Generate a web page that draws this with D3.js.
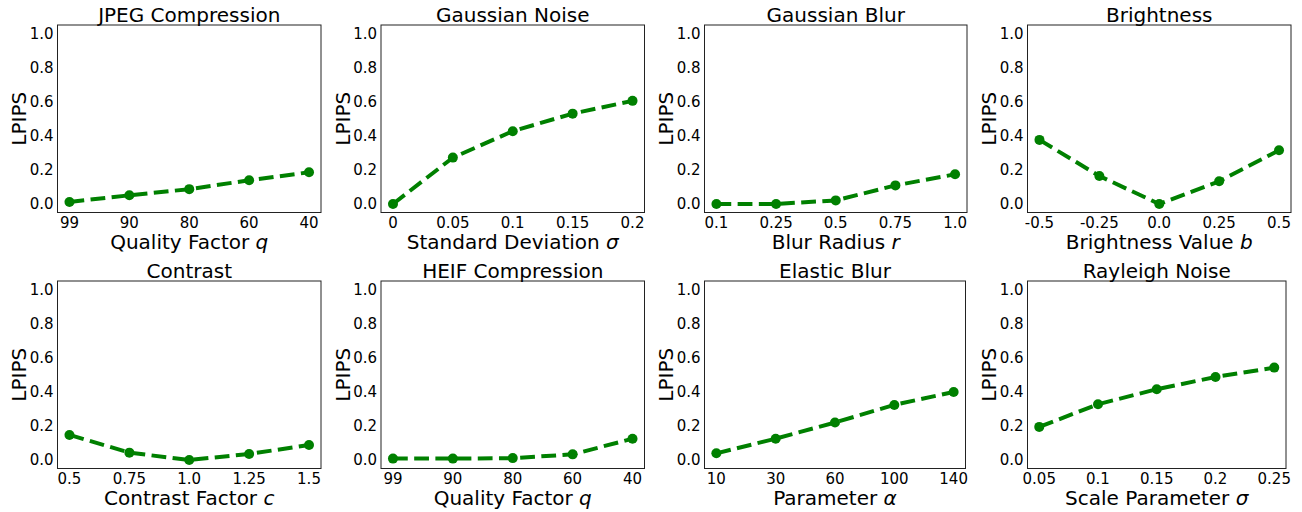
<!DOCTYPE html>
<html>
<head>
<meta charset="utf-8">
<script src="https://cdn.jsdelivr.net/npm/d3@7"></script>
<style>
  body { margin: 0; background: #fff; }
  svg { display: block; font-family: "DejaVu Sans", sans-serif; }
</style>
</head>
<body>
<div id="chart"></div>
<script>

// chart data
var titles = ["JPEG Compression", "Gaussian Noise", "Gaussian Blur", "Brightness",
              "Contrast", "HEIF Compression", "Elastic Blur", "Rayleigh Noise"];

var xLabelNames   = ["Quality Factor ", "Standard Deviation ", "Blur Radius ", "Brightness Value ",
                     "Contrast Factor ", "Quality Factor ", "Parameter ", "Scale Parameter "];
var xLabelSymbols = ["q", "σ", "r", "b", "c", "q", "α", "σ"];

var ticksJpeg       = ["99", "90", "80", "60", "40"];
var ticksNoise      = ["0", "0.05", "0.1", "0.15", "0.2"];
var ticksBlur       = ["0.1", "0.25", "0.5", "0.75", "1.0"];
var ticksBrightness = ["-0.5", "-0.25", "0.0", "0.25", "0.5"];
var ticksContrast   = ["0.5", "0.75", "1.0", "1.25", "1.5"];
var ticksHeif       = ["99", "90", "80", "60", "40"];
var ticksElastic    = ["10", "30", "60", "100", "140"];
var ticksRayleigh   = ["0.05", "0.1", "0.15", "0.2", "0.25"];

var lpipsJpeg       = [0.012, 0.051, 0.087, 0.139, 0.186];
var lpipsNoise      = [0.0, 0.272, 0.427, 0.530, 0.605];
var lpipsBlur       = [0.0, 0.0, 0.021, 0.109, 0.174];
var lpipsBrightness = [0.376, 0.164, 0.0, 0.133, 0.315];
var lpipsContrast   = [0.147, 0.043, 0.0, 0.035, 0.088];
var lpipsHeif       = [0.008, 0.008, 0.011, 0.033, 0.125];
var lpipsElastic    = [0.039, 0.125, 0.220, 0.323, 0.399];
var lpipsRayleigh   = [0.194, 0.327, 0.415, 0.487, 0.542];

var yTicks = [0, 0.2, 0.4, 0.6, 0.8, 1.0];

var allTicks = [ticksJpeg, ticksNoise, ticksBlur, ticksBrightness,
                ticksContrast, ticksHeif, ticksElastic, ticksRayleigh];
var allLpips = [lpipsJpeg, lpipsNoise, lpipsBlur, lpipsBrightness,
                lpipsContrast, lpipsHeif, lpipsElastic, lpipsRayleigh];

// axes boxes (left, right, top, bottom) in pixels
var boxes = [
  [57.5, 321, 25, 212.5], [381, 644.5, 25, 212.5], [704.5, 967, 25, 212.5], [1027.5, 1291, 25, 212.5],
  [57.5, 321, 281, 468.5], [381, 644.5, 281, 468.5], [704.5, 965.5, 281, 468.5], [1027.5, 1286, 281, 468.5]
];

var W = 1302, H = 512;
var green = "#008000";

var svg = d3.select("#chart").append("svg")
            .attr("width", W)
            .attr("height", H);

boxes.forEach(function (b, i) {

  var left = b[0], right = b[1], top = b[2], bottom = b[3];
  var ticks = allTicks[i], vals = allLpips[i];

  var XScale = d3.scaleLinear().domain([-0.2, ticks.length - 1 + 0.2]).range([left, right]);
  var YScale = d3.scaleLinear().domain([-0.05, 1.05]).range([bottom, top]);

  var g = svg.append("g").attr("class", "panel");

  // y tick labels
  g.selectAll(".ytick")
   .data(yTicks)
   .enter().append("text")
   .attr("class", "ytick")
   .attr("x", left - 4)
   .attr("y", function (d) { return YScale(d) + 5.4; })
   .attr("text-anchor", "end")
   .attr("font-size", 15)
   .attr("fill", "#000")
   .text(function (d) { return d3.format(".1f")(d); });

  // x tick labels
  g.selectAll(".xtick")
   .data(ticks)
   .enter().append("text")
   .attr("class", "xtick")
   .attr("x", function (d, k) { return XScale(k); })
   .attr("y", bottom + 15.3)
   .attr("text-anchor", "middle")
   .attr("font-size", 15)
   .attr("fill", "#000")
   .text(function (d) { return d; });

  // dashed line
  var line = d3.line()
               .x(function (d, k) { return XScale(k); })
               .y(function (d) { return YScale(d); });

  g.append("path")
   .attr("d", line(vals))
   .attr("fill", "none")
   .attr("stroke", green)
   .attr("stroke-width", 4)
   .attr("stroke-dasharray", "14.8,6.4");

  g.selectAll(".dot")
   .data(vals)
   .enter().append("circle")
   .attr("class", "dot")
   .attr("cx", function (d, k) { return XScale(k); })
   .attr("cy", function (d) { return YScale(d); })
   .attr("r", 5)
   .attr("fill", green);

  // frame
  g.append("rect")
   .attr("x", left)
   .attr("y", top)
   .attr("width", right - left)
   .attr("height", bottom - top)
   .attr("fill", "none")
   .attr("stroke", "#222")
   .attr("stroke-width", 1);

  // title
  g.append("text")
   .attr("x", (left + right) / 2)
   .attr("y", top - 3)
   .attr("text-anchor", "middle")
   .attr("font-size", 20)
   .attr("fill", "#000")
   .text(titles[i]);

  // x label with italic symbol
  var xl = g.append("text")
            .attr("x", (left + right) / 2)
            .attr("y", bottom + 36)
            .attr("text-anchor", "middle")
            .attr("font-size", 20)
            .attr("fill", "#000");
  xl.append("tspan").text(xLabelNames[i]);
  xl.append("tspan").attr("font-style", "italic").text(xLabelSymbols[i]);

  // y label
  g.append("text")
   .attr("transform", "translate(" + (left - 31.5) + "," + ((top + bottom) / 2) + ") rotate(-90)")
   .attr("text-anchor", "middle")
   .attr("font-size", 20)
   .attr("fill", "#000")
   .text("LPIPS");

});

</script>
</body>
</html>
